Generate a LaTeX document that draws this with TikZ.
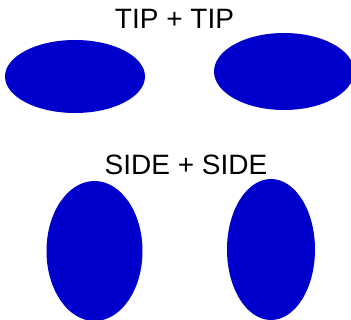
\documentclass[tikz,border=0pt]{standalone}
\usepackage{fontspec}
\setmainfont{Liberation Sans}
\usetikzlibrary{shapes.geometric}
\definecolor{ovalblue}{HTML}{0000CC}

\begin{document}
\begin{tikzpicture}[x=1pt, y=-1pt,
    every node/.style={font=\fontsize{28}{32}\selectfont},
    oval/.style={ellipse, fill=ovalblue, inner sep=0pt}]
    \useasboundingbox (0,0) rectangle (351,320);
    % tip against tip
    \node[anchor=base] (tiptitle) at (174.5,29) {TIP + TIP};
    \node[oval, minimum width=140pt, minimum height=73pt] (tipleft) at (75,76.5) {};
    \node[oval, minimum width=140pt, minimum height=77pt] (tipright) at (284,71.5) {};
    % side against side
    \node[anchor=base] (sidetitle) at (186,175) {SIDE + SIDE};
    \node[oval, minimum width=96pt, minimum height=140pt] (sideleft) at (94.5,251) {};
    \node[oval, minimum width=88pt, minimum height=141pt] (sideright) at (271,249.5) {};
\end{tikzpicture}
\end{document}
